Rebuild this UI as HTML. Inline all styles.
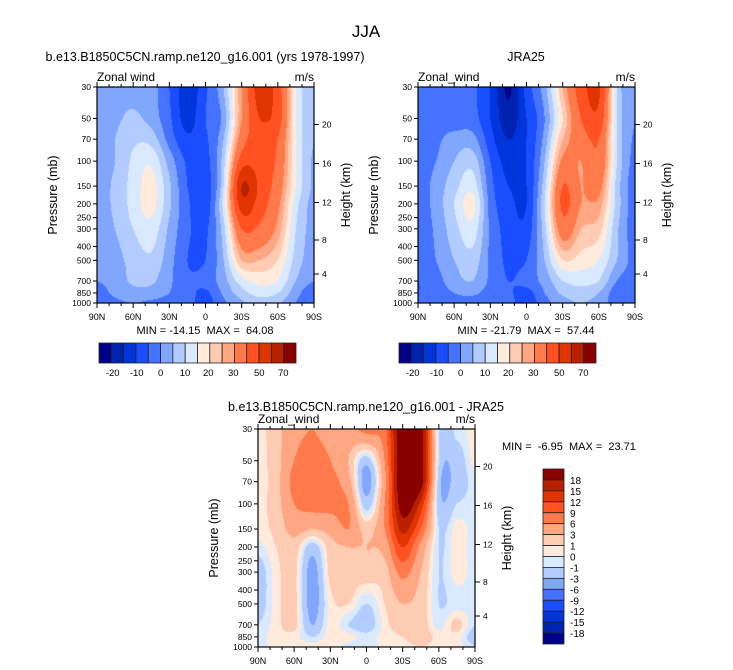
<!DOCTYPE html>
<html><head><meta charset="utf-8"><style>
html,body{margin:0;padding:0;background:#fff;}
#root{position:relative;width:733px;height:670px;overflow:hidden;font-family:"Liberation Sans",sans-serif;}
canvas{position:absolute;}
svg{position:absolute;left:0;top:0;}
svg text{white-space:pre;}
</style></head><body>
<div id="root">
<canvas id="c1" width="217" height="216" style="left:97px;top:87px"></canvas>
<canvas id="c2" width="217" height="216" style="left:418px;top:87px"></canvas>
<canvas id="c3" width="217" height="218" style="left:258px;top:429px"></canvas>
<svg id="ov" width="733" height="670"></svg>
</div>
<script>
// ---- data ----
const lats = [90,75,60,45,30,15,0,-15,-30,-45,-60,-75,-90];
const pLevels = [30,50,70,100,150,200,300,500,700,850,1000];
const modelU = [
[3,3,3,2,-5,-13,-6,5,30,55,45,15,5],
[3,4,6,3,-4,-12,-5,2,30,50,45,15,5],
[3,5,9,8,-2,-9,-6,5,35,45,40,15,5],
[3,5,11,14,3,-6,-7,8,45,45,38,15,4],
[3,6,12,17,6,-5,-8,10,60,48,35,15,4],
[3,6,12,17,6,-4,-8,12,55,45,32,12,3],
[2,5,10,13,4,-4,-6,8,40,38,28,10,3],
[1,3,7,9,2,-5,-5,5,25,25,20,8,2],
[0,2,6,6,1,-4,-3,3,13,17,15,5,0],
[-2,1,3,3,0,-3,-6,1,8,12,10,2,-4],
[-3,-1,0,-1,-2,-3,-7,-1,4,8,6,0,-5]];
const jraU = [
[-2,-3,-3,-4,-10,-21,-8,3,25,45,52,10,0],
[-1,-2,-3,-3,-10,-18,-10,0,20,40,47,10,0],
[-2,-1,2,2,-8,-15,-10,2,25,35,40,10,-1],
[-3,0,5,8,-5,-12,-10,5,32,30,38,10,-2],
[-3,2,8,13,-3,-10,-10,8,40,30,33,8,-3],
[-3,2,10,17,-2,-8,-10,10,42,30,28,8,-3],
[-3,1,8,13,-1,-7,-8,8,35,25,22,6,-3],
[-4,0,5,8,-1,-6,-5,5,20,18,15,5,-2],
[-5,-2,3,5,-1,-5,-3,2,10,12,10,0,-3],
[-5,-3,0,1,-2,-4,-7,0,6,8,5,-3,-4],
[-4,-3,-2,-2,-3,-3,-8,-2,3,5,3,-3,-4]];
const diffU = [
[0.5,2,5,6,5,5,7,8,22,20,-1,-0.5,0.5],
[0.5,2,6,7,6,3,-2,6,22,20,-1,-2,0.5],
[0.5,2,7,7,7,4,-4,5,22,20,-2,-2,-0.5],
[0.5,2,6,7,7,6,-2,6,20,14,-2,-1,-0.5],
[0.5,1.5,4,3,4,6,2,6,16,9,-1,0.5,-0.5],
[-0.5,1,2,-2,2,3,3,4,12,5,-1,0.5,-0.5],
[-2,0.5,1.5,-4,1.5,2,2,2,7,3,-1,0.5,-0.5],
[-2,0.5,1.5,-4,0.5,1,-1,1,3,2,-1,-0.5,-0.5],
[-1,0.5,1.5,-3,0.5,-1,-2,0.5,2,2,-0.5,1.5,-1],
[-0.5,0.5,0.5,-1,0.5,0.5,-0.5,0.5,1,2,0.5,0.5,-2],
[-0.5,0.5,0.5,0.5,0.5,-0.5,-1,0.5,0.5,1,0.5,0.5,-1]];
const levelsAbs = [-20,-15,-10,-5,0,5,10,15,20,25,30,40,50,60,70];
const levelsDiff = [-18,-15,-12,-9,-6,-3,-1,0,1,3,6,9,12,15,18];
const absLabels = ["-20","-10","0","10","20","30","50","70"];
const diffLabels = ["18","15","12","9","6","3","1","0","-1","-3","-6","-9","-12","-15","-18"];
const pTicks = [30,50,70,100,150,200,250,300,400,500,700,850,1000];
const kmTicks = [20,16,12,8,4];
const latTicks = [90,60,30,0,-30,-60,-90];
const latLabels = ["90N","60N","30N","0","30S","60S","90S"];
const palette = ["#00008b","#0022b0","#0035dc","#1a4dff","#4573ff","#80a6ff","#b3ccff","#d9e9ff","#ffeadb","#ffcbb3","#ffa782","#ff7a4a","#ff5122","#e03500","#b82000","#880000"];

function cr(p0,p1,p2,p3,t){
  return p1 + 0.5*t*(p2-p0 + t*(2*p0-5*p1+4*p2-p3 + t*(3*(p1-p2)+p3-p0)));
}
function at(grid,r,c){
  r=Math.max(0,Math.min(grid.length-1,r)); c=Math.max(0,Math.min(grid[0].length-1,c));
  return grid[r][c];
}
function interp(grid, lat, p){
  const cf = (90-lat)/15; let c = Math.min(Math.floor(cf), lats.length-2); const fx = cf-c;
  let r = 0; while(r < pLevels.length-2 && p > pLevels[r+1]) r++;
  const fy = Math.log(p/pLevels[r])/Math.log(pLevels[r+1]/pLevels[r]);
  const rows=[];
  for(let k=-1;k<=2;k++){
    rows.push(cr(at(grid,r+k,c-1),at(grid,r+k,c),at(grid,r+k,c+1),at(grid,r+k,c+2),fx));
  }
  return cr(rows[0],rows[1],rows[2],rows[3],fy);
}
function hex(h){return [parseInt(h.substr(1,2),16),parseInt(h.substr(3,2),16),parseInt(h.substr(5,2),16)];}
const pal = palette.map(hex);
function draw(id, grid, levels){
  const cv = document.getElementById(id), ctx = cv.getContext('2d');
  const w = cv.width, h = cv.height, img = ctx.createImageData(w,h);
  for(let y=0;y<h;y++){
    const p = 30*Math.exp((y+0.5)/h*Math.log(1000/30));
    for(let x=0;x<w;x++){
      const lat = 90-(x+0.5)/w*180;
      const v = interp(grid, lat, p);
      let k=0; while(k<levels.length && v>=levels[k]) k++;
      const col = pal[k], i=(y*w+x)*4;
      img.data[i]=col[0]; img.data[i+1]=col[1]; img.data[i+2]=col[2]; img.data[i+3]=255;
    }
  }
  ctx.putImageData(img,0,0);
}
draw('c1', modelU, levelsAbs);
draw('c2', jraU, levelsAbs);
draw('c3', diffU, levelsDiff);

const NS='http://www.w3.org/2000/svg', ov=document.getElementById('ov');
function mk(tag, attrs, text){
  const e=document.createElementNS(NS,tag);
  for(const k in attrs) e.setAttribute(k, attrs[k]);
  if(text!==undefined) e.textContent=text;
  ov.appendChild(e); return e;
}
const kmOff = {20:37.5,16:76.5,12:115.5,8:153,4:187};
function axes(L,T,W,H,pre){
  const yP = p => T + H*Math.log(p/30)/Math.log(1000/30);
  const xL = lat => L + W*(90-lat)/180;
  let e = mk('rect',{x:L,y:T,width:W,height:H,fill:'none',stroke:'#000','stroke-width':1.2});
  
  
  for(let lat=90; lat>=-90; lat-=10){
    const maj = lat%30===0, x=xL(lat);
    e = mk('line',{x1:x,x2:x,y1:T+H,y2:T+H+(maj?5:3),stroke:'#000','stroke-width':1});
    
    
    e = mk('line',{x1:x,x2:x,y1:T,y2:T-(maj?5:3),stroke:'#000','stroke-width':1});
    
    
  }
  latTicks.forEach((lat,i)=>{
    e = mk('text',{x:xL(lat),y:T+H+17,'font-size':9,'text-anchor':'middle'}, latLabels[i]);
    
    
  });
  pTicks.forEach(p=>{
    const y=yP(p);
    e = mk('line',{x1:L-4,x2:L,y1:y,y2:y,stroke:'#000','stroke-width':1});
    
    
    e = mk('text',{x:L-6,y:y+3,'font-size':8.5,'text-anchor':'end'}, String(p));
    
    
  });
  kmTicks.forEach(k=>{
    const y=T+kmOff[k];
    e = mk('line',{x1:L+W,x2:L+W+5,y1:y,y2:y,stroke:'#000','stroke-width':1});
    
    
    e = mk('text',{x:L+W+8,y:y+3,'font-size':8.5}, String(k));
    
    
  });
  e = mk('text',{x:0,y:0,'font-size':12.5,'text-anchor':'middle',transform:`translate(${L-40},${T+H/2}) rotate(-90)`},'Pressure (mb)');
  
  
  e = mk('text',{x:0,y:0,'font-size':12.5,'text-anchor':'middle',transform:`translate(${L+W+36},${T+H/2}) rotate(-90)`},'Height (km)');
  
  
  e = mk('text',{x:L+W,y:T-6,'font-size':12,'text-anchor':'end'},'m/s');
  
  
}
axes(97,87,217,216,'model');
axes(418,87,217,216,'jra');
axes(258,429,217,218,'diff');

let t;
t = mk('text',{x:366,y:37,'font-size':17,'text-anchor':'middle'},'JJA');
 
t = mk('text',{x:205,y:61,'font-size':12.5,'text-anchor':'middle'},'b.e13.B1850C5CN.ramp.ne120_g16.001 (yrs 1978-1997)');
 
t = mk('text',{x:526,y:61,'font-size':12.5,'text-anchor':'middle'},'JRA25');
 
t = mk('text',{x:366,y:411,'font-size':12.5,'text-anchor':'middle'},'b.e13.B1850C5CN.ramp.ne120_g16.001 - JRA25');
 
t = mk('text',{x:97,y:81,'font-size':12},'Zonal wind');
 
t = mk('text',{x:418,y:81,'font-size':12},'Zonal_wind');
 
t = mk('text',{x:258,y:423,'font-size':12},'Zonal_wind');
 
t = mk('text',{x:205,y:334,'font-size':11,'text-anchor':'middle'},'MIN = -14.15  MAX =  64.08');
 
t = mk('text',{x:526,y:334,'font-size':11,'text-anchor':'middle'},'MIN = -21.79  MAX =  57.44');
 
t = mk('text',{x:502,y:450,'font-size':11},'MIN =  -6.95  MAX =  23.71');
 

// horizontal colorbars
const cbLabelX = [112.7,136.7,160.7,185,208.3,233.3,259.3,283.3];
[[99,'model'],[399,'jra']].forEach(([x0,pre])=>{
  const bw = 197/16;
  palette.forEach((c,i)=>{
    const r = mk('rect',{x:x0+i*bw,y:343,width:bw,height:20,fill:c,stroke:'#222','stroke-width':0.8});
    
    
  });
  absLabels.forEach((s,i)=>{
    const l = mk('text',{x:cbLabelX[i]+(x0-99),y:376,'font-size':9.5,'text-anchor':'middle'},s);
    
    
  });
});
// vertical colorbar
const bh = 175/16;
palette.slice().reverse().forEach((c,i)=>{
  const r = mk('rect',{x:543,y:469+i*bh,width:21,height:bh,fill:c,stroke:'#222','stroke-width':0.8});
  
  
});
diffLabels.forEach((s,i)=>{
  const l = mk('text',{x:570,y:469+(i+1)*bh+4,'font-size':10},s);
  
  
});
</script>
</body></html>
